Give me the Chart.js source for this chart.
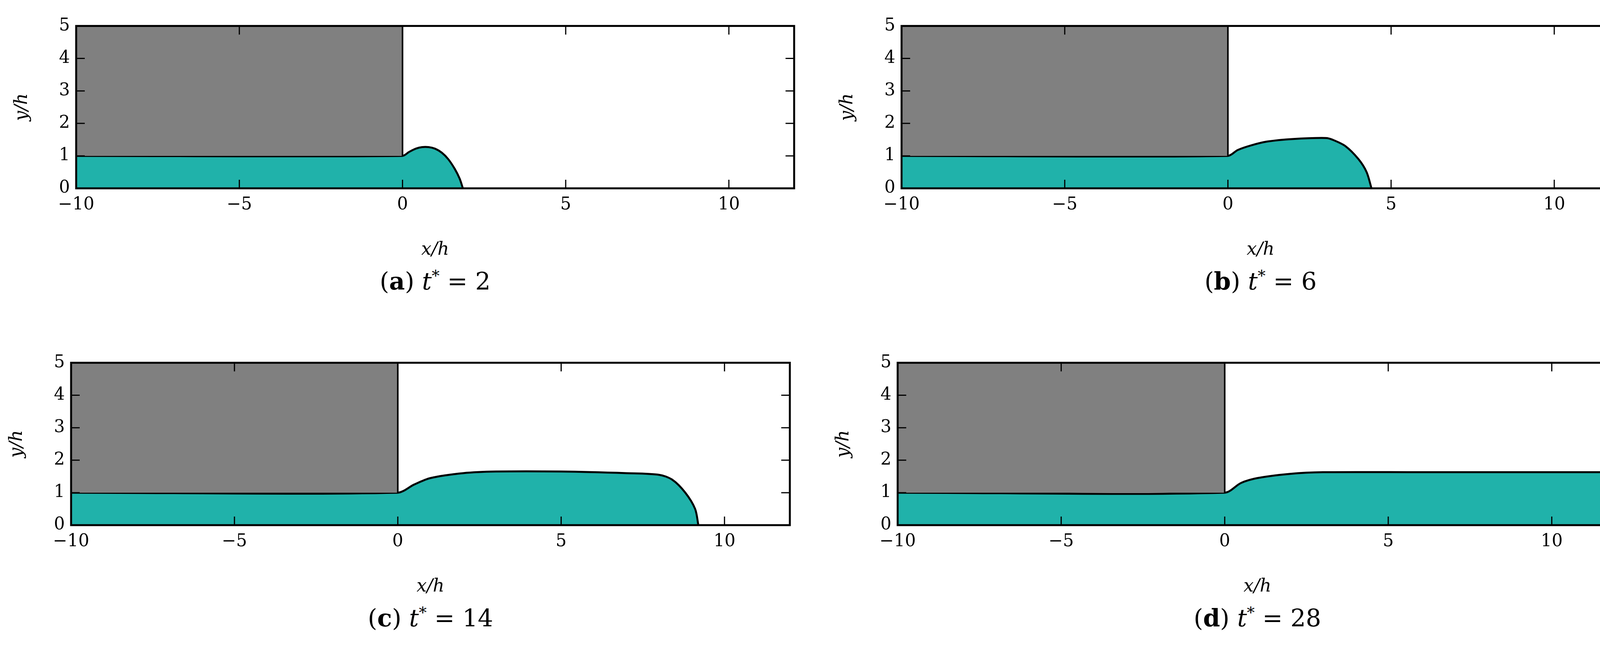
<!DOCTYPE html>
<html>
<head>
<meta charset="utf-8">
<script src="https://cdn.jsdelivr.net/npm/chart.js@4.4.1/dist/chart.umd.min.js"></script>
<style>
  body { margin: 0; background: #fff; width: 4199px; height: 1661px; position: relative; overflow: hidden; }
  .box { position: absolute; }
  .cap { position: absolute; font-family: "DejaVu Serif", "Liberation Serif", serif; font-size: 62px; text-align: center; }
  .cap i { font-style: italic; }
</style>
</head>
<body>
<script>
// data
var xTicks = [-10, -5, 0, 5, 10];
var yTicks = [0, 1, 2, 3, 4, 5];
var captions = ['a', 'b', 'c', 'd'];
var times = [2, 6, 14, 28];
var solidX = [-10, 0, 0];
var solidY = [5, 5, 1];
var liquidA_x = [-10, 0, 0.2, 0.4, 0.6, 0.8, 1.0, 1.2, 1.4, 1.6, 1.75, 1.85];
var liquidA_y = [1, 1, 1.12, 1.22, 1.27, 1.27, 1.22, 1.1, 0.9, 0.6, 0.3, 0];
var liquidB_x = [-10, 0, 0.3, 0.7, 1.2, 2.0, 3.0, 3.2, 3.6, 4.0, 4.25, 4.4];
var liquidB_y = [1, 1, 1.18, 1.32, 1.44, 1.52, 1.55, 1.5, 1.3, 0.9, 0.5, 0];
var liquidC_x = [-10, 0, 0.5, 1, 2, 3, 5, 7, 8, 8.4, 8.8, 9.1, 9.2];
var liquidC_y = [1, 1, 1.25, 1.45, 1.6, 1.65, 1.65, 1.6, 1.55, 1.4, 1.0, 0.5, 0];
var liquidD_x = [-10, 0, 0.5, 1, 2, 3, 6, 12];
var liquidD_y = [1, 1, 1.3, 1.45, 1.58, 1.63, 1.63, 1.63];

var liquids = [[liquidA_x, liquidA_y], [liquidB_x, liquidB_y], [liquidC_x, liquidC_y], [liquidD_x, liquidD_y]];
// plot areas: left, top, right, bottom
var areas = [[195, 62, 2033, 482], [2308, 62, 4146, 482], [182, 924, 2022, 1344], [2298, 924, 4140, 1344]];

function pts(xs, ys) {
  var out = [];
  for (var i = 0; i < xs.length; i++) out.push({x: xs[i], y: ys[i]});
  return out;
}

var serif = '"DejaVu Serif", "Liberation Serif", serif';
var padL = 170, padT = 30, padR = 30, padB = 190;

var innerTicks = {
  id: 'innerTicks',
  afterDraw: function(chart) {
    var ctx = chart.ctx, a = chart.chartArea;
    var sx = chart.scales.x, sy = chart.scales.y;
    ctx.save();
    ctx.strokeStyle = '#000';
    ctx.lineWidth = 3;
    ctx.beginPath();
    xTicks.forEach(function(v) {
      var p = sx.getPixelForValue(v);
      ctx.moveTo(p, a.bottom); ctx.lineTo(p, a.bottom - 22);
      ctx.moveTo(p, a.top); ctx.lineTo(p, a.top + 22);
    });
    yTicks.forEach(function(v) {
      var p = sy.getPixelForValue(v);
      ctx.moveTo(a.left, p); ctx.lineTo(a.left + 22, p);
      ctx.moveTo(a.right, p); ctx.lineTo(a.right - 22, p);
    });
    ctx.stroke();
    ctx.lineWidth = 5;
    ctx.strokeRect(a.left, a.top, a.right - a.left, a.bottom - a.top);
    ctx.restore();
  }
};

areas.forEach(function(ar, k) {
  var w = ar[2] - ar[0] + padL + padR, h = ar[3] - ar[1] + padT + padB;
  var div = document.createElement('div');
  div.className = 'box';
  div.style.left = (ar[0] - padL) + 'px';
  div.style.top = (ar[1] - padT) + 'px';
  div.style.width = w + 'px';
  div.style.height = h + 'px';
  var cv = document.createElement('canvas');
  div.appendChild(cv);
  document.body.appendChild(div);

  var cap = document.createElement('div');
  cap.className = 'cap';
  cap.style.left = ar[0] + 'px';
  cap.style.width = (ar[2] - ar[0]) + 'px';
  cap.style.top = (ar[3] + 200) + 'px';
  cap.innerHTML = '(<b>' + captions[k] + '</b>) <i>t</i><sup style="font-size:40px">*</sup> = ' + times[k];
  document.body.appendChild(cap);

  new Chart(cv, {
    type: 'scatter',
    data: {
      datasets: [
        {
          data: pts(liquids[k][0], liquids[k][1]),
          showLine: true, fill: 'origin', backgroundColor: '#20b2aa',
          borderColor: '#000', borderWidth: 5, pointRadius: 0, tension: 0.3, order: 2
        },
        {
          data: pts(solidX, solidY),
          showLine: true, fill: {value: 1}, backgroundColor: '#808080',
          borderColor: '#000', borderWidth: 4, pointRadius: 0, order: 1
        }
      ]
    },
    plugins: [innerTicks],
    options: {
      responsive: true, maintainAspectRatio: false, animation: false,
      layout: {padding: {top: padT, right: padR, left: 0, bottom: 0}},
      plugins: {legend: {display: false}, tooltip: {enabled: false}},
      scales: {
        x: {
          type: 'linear', min: -10, max: 12,
          afterBuildTicks: function(s) { s.ticks = xTicks.map(function(v) { return {value: v}; }); },
          afterFit: function(s) { s.height = padB; },
          grid: {display: false}, border: {display: false},
          ticks: {color: '#000', font: {family: serif, size: 44}, padding: 8,
                  callback: function(v) { return String(v).replace('-', '\u2212'); }},
          title: {display: true, text: 'x/h', color: '#000', font: {family: serif, size: 46, style: 'italic'}, padding: {top: 10}}
        },
        y: {
          type: 'linear', min: 0, max: 5,
          afterBuildTicks: function(s) { s.ticks = yTicks.map(function(v) { return {value: v}; }); },
          afterFit: function(s) { s.width = padL; },
          grid: {display: false}, border: {display: false},
          ticks: {color: '#000', font: {family: serif, size: 44}, padding: 8},
          title: {display: true, text: 'y/h', color: '#000', font: {family: serif, size: 46, style: 'italic'}, padding: {bottom: 10}}
        }
      }
    }
  });
});
</script>
</body>
</html>
